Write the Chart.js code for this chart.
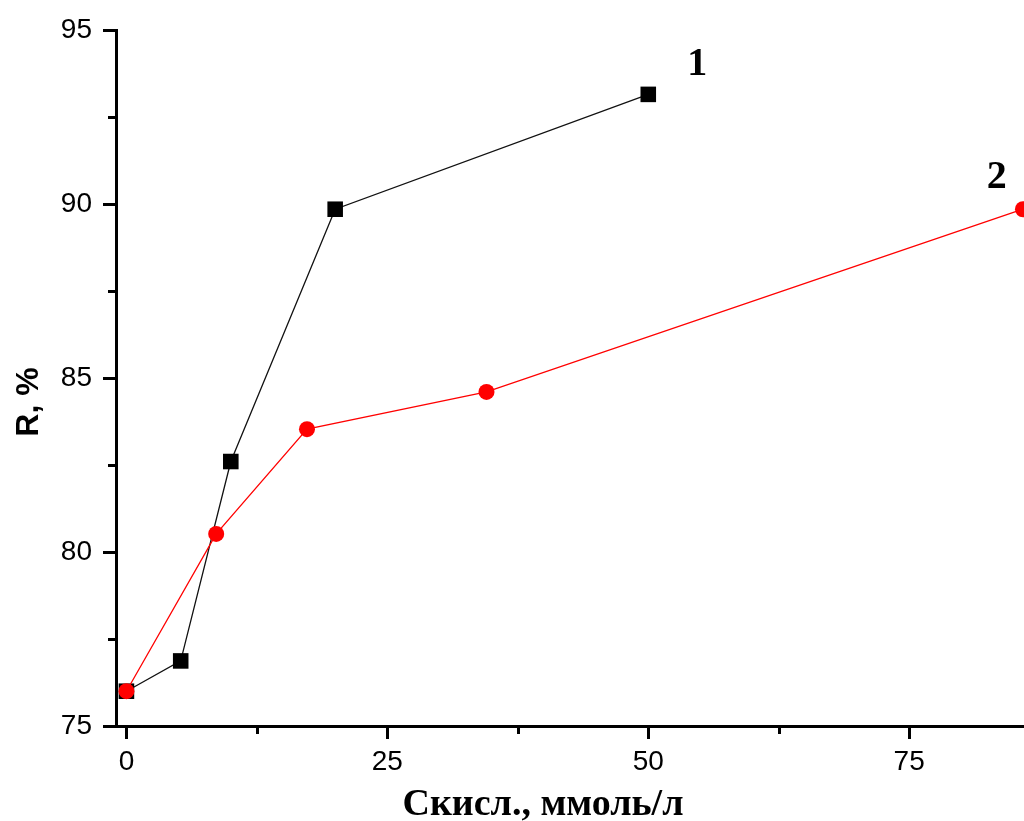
<!DOCTYPE html>
<html>
<head>
<meta charset="utf-8">
<script src="https://cdn.jsdelivr.net/npm/chart.js@4.4.1/dist/chart.umd.min.js"></script>
<style>
html,body{margin:0;padding:0;background:#fff;}
#wrap{width:1024px;height:821px;position:relative;}
</style>
</head>
<body>
<div id="wrap"><canvas id="c" width="1024" height="821"></canvas></div>
<script>
// ---- data ----
const series1X = [0, 5.2, 10, 20, 50];
const series1Y = [76.0, 76.87, 82.6, 89.85, 93.15];
const series2X = [0, 8.6, 17.3, 34.5, 85.9];
const series2Y = [76.0, 80.52, 83.53, 84.6, 89.85];
const xTickValues = [0, 12.5, 25, 37.5, 50, 62.5, 75];
const xMajorTicks = [0, 25, 50, 75];
const yTickValues = [75, 77.5, 80, 82.5, 85, 87.5, 90, 92.5, 95];
const yMajorTicks = [75, 80, 85, 90, 95];
const curveLabels = ['1', '2'];
const curveLabelX = [54.7, 83.4];
const curveLabelY = [93.71, 90.46];
const xTitle = 'Cкисл., ммоль/л';
const yTitle = 'R, %';

const toPts = (xs, ys) => xs.map((x, i) => ({x: x, y: ys[i]}));

const extras = {
  id: 'extras',
  afterDraw(chart) {
    const ctx = chart.ctx;
    const xs = chart.scales.x, ys = chart.scales.y;
    const ca = chart.chartArea;
    ctx.save();
    ctx.strokeStyle = '#000';
    ctx.lineWidth = 3;
    // minor ticks
    xTickValues.filter(v => !xMajorTicks.includes(v)).forEach(v => {
      const px = Math.round(xs.getPixelForValue(v)) + 0.5;
      ctx.beginPath(); ctx.moveTo(px, ca.bottom); ctx.lineTo(px, ca.bottom + 8); ctx.stroke();
    });
    yTickValues.filter(v => !yMajorTicks.includes(v)).forEach(v => {
      const py = Math.round(ys.getPixelForValue(v)) + 0.5;
      ctx.beginPath(); ctx.moveTo(ca.left, py); ctx.lineTo(ca.left - 8, py); ctx.stroke();
    });
    // curve labels
    ctx.fillStyle = '#000';
    ctx.font = 'bold 40px "Liberation Serif", "Times New Roman", serif';
    ctx.textAlign = 'center';
    ctx.textBaseline = 'alphabetic';
    curveLabels.forEach((t, i) => {
      ctx.fillText(t, xs.getPixelForValue(curveLabelX[i]), ys.getPixelForValue(curveLabelY[i]));
    });
    // x title
    ctx.font = 'bold 38px "Liberation Serif", "Times New Roman", serif';
    ctx.fillText(xTitle, 543, 815);
    // y title
    ctx.save();
    ctx.translate(38, 402);
    ctx.rotate(-Math.PI / 2);
    ctx.font = 'bold 32px "Liberation Sans", Arial, sans-serif';
    ctx.textAlign = 'center';
    ctx.fillText(yTitle, 0, 0);
    ctx.restore();
    ctx.restore();
  }
};

new Chart(document.getElementById('c'), {
  type: 'scatter',
  data: {
    datasets: [
      {
        label: '1',
        data: toPts(series1X, series1Y),
        showLine: true,
        borderColor: '#111',
        borderWidth: 1.3,
        backgroundColor: '#000',
        pointStyle: 'rect',
        pointRadius: 11,
        pointHoverRadius: 11,
        pointBorderWidth: 0,
        order: 1
      },
      {
        label: '2',
        data: toPts(series2X, series2Y),
        showLine: true,
        borderColor: '#ff0000',
        borderWidth: 1.3,
        backgroundColor: '#ff0000',
        pointStyle: 'circle',
        pointRadius: 8,
        pointHoverRadius: 8,
        pointBorderWidth: 0,
        order: 0
      }
    ]
  },
  options: {
    responsive: false,
    animation: false,
    events: [],
    layout: {autoPadding: false, padding: {top: 30, left: 0, right: 0, bottom: 0}},
    plugins: {legend: {display: false}, tooltip: {enabled: false}},
    scales: {
      x: {
        type: 'linear',
        min: -1,
        max: 86,
        afterBuildTicks: s => { s.ticks = xTickValues.map(v => ({value: v})); },
        afterFit: s => { s.height = 95; },
        border: {display: true, color: '#000', width: 3},
        grid: {
          drawOnChartArea: false,
          drawTicks: true,
          tickLength: 13,
          tickWidth: 3,
          tickColor: ctx => (ctx.tick && xMajorTicks.includes(ctx.tick.value)) ? '#000' : 'rgba(0,0,0,0)'
        },
        ticks: {
          autoSkip: false,
          maxRotation: 0,
          padding: 6,
          color: '#000',
          font: {family: '"Liberation Sans", Arial, sans-serif', size: 28},
          callback: v => xMajorTicks.includes(v) ? String(v) : ''
        }
      },
      y: {
        type: 'linear',
        min: 75,
        max: 95,
        afterBuildTicks: s => { s.ticks = yTickValues.map(v => ({value: v})); },
        afterFit: s => { s.width = 116; },
        border: {display: true, color: '#000', width: 3},
        grid: {
          drawOnChartArea: false,
          drawTicks: true,
          tickLength: 13,
          tickWidth: 3,
          tickColor: ctx => (ctx.tick && yMajorTicks.includes(ctx.tick.value)) ? '#000' : 'rgba(0,0,0,0)'
        },
        ticks: {
          autoSkip: false,
          padding: 11,
          color: '#000',
          font: {family: '"Liberation Sans", Arial, sans-serif', size: 28},
          callback: v => yMajorTicks.includes(v) ? String(v) : ''
        }
      }
    }
  },
  plugins: [extras]
});
</script>
</body>
</html>
